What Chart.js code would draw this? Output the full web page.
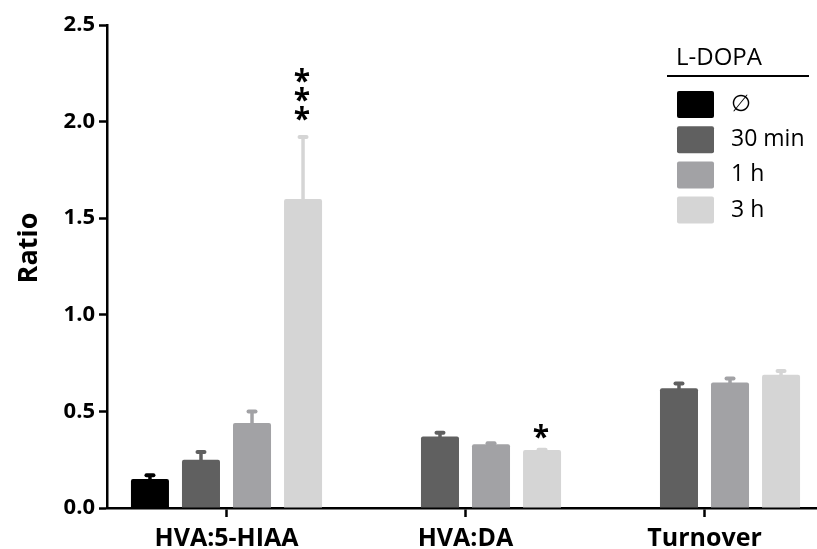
<!DOCTYPE html>
<html>
<head>
<meta charset="utf-8">
<script src="https://cdn.jsdelivr.net/npm/chart.js@4/dist/chart.umd.min.js"></script>
<style>
  html, body { margin: 0; padding: 0; background: #fff; overflow: hidden; }
  canvas { display: block; }
</style>
</head>
<body>
<canvas id="c" width="824" height="549"></canvas>
<script>
// Metabolite ratios after L-DOPA treatment (mean + SEM)
const categories = ['HVA:5-HIAA', 'HVA:DA', 'Turnover'];
const groupLabels = ['\u2205', '30 min', '1 h', '3 h'];
const legendTitle = 'L-DOPA';
const yTicks = [0, 0.5, 1.0, 1.5, 2.0, 2.5];

const meanNone  = [0.15, null, null];
const mean30min = [0.25, 0.37, 0.62];
const mean1h    = [0.44, 0.33, 0.65];
const mean3h    = [1.60, 0.30, 0.69];

const semNone  = [0.03, null, null];
const sem30min = [0.05, 0.03, 0.035];
const sem1h    = [0.07, 0.015, 0.03];
const sem3h    = [0.33, 0.012, 0.03];

// significance marks: category index, series index, symbol
const sigCategory = [0, 1];
const sigSeries   = [3, 3];
const sigText     = ['***', '*'];

const colors = ['#000000', '#606060', '#a2a2a5', '#d5d5d5'];
const FONT = '"Open Sans", "DejaVu Sans", sans-serif';

const means = [meanNone, mean30min, mean1h, mean3h];
const sems  = [semNone, sem30min, sem1h, sem3h];

const datasets = means.map((m, i) => ({
  label: groupLabels[i],
  data: m,
  sem: sems[i],
  backgroundColor: colors[i],
  borderWidth: 0,
  borderRadius: 2,
  borderSkipped: 'start',
  categoryPercentage: 0.854,
  barPercentage: 0.745
}));

// upward error bars with a rounded cap
const errorBars = {
  id: 'errorBars',
  afterDatasetsDraw(chart) {
    const { ctx } = chart;
    const y = chart.scales.y;
    chart.data.datasets.forEach((ds, i) => {
      const meta = chart.getDatasetMeta(i);
      meta.data.forEach((bar, j) => {
        const v = ds.data[j], e = ds.sem[j];
        if (v == null || e == null) return;
        const top = y.getPixelForValue(v + e);
        ctx.save();
        ctx.strokeStyle = ds.backgroundColor;
        ctx.lineWidth = 3.5;
        ctx.beginPath();
        ctx.moveTo(bar.x, bar.y + 1);
        ctx.lineTo(bar.x, top + 2);
        ctx.stroke();
        ctx.lineWidth = 4;
        ctx.lineCap = 'round';
        ctx.beginPath();
        ctx.moveTo(bar.x - 3.5, top + 2);
        ctx.lineTo(bar.x + 3.5, top + 2);
        ctx.stroke();
        ctx.restore();
      });
    });
  }
};

// stacked asterisks above the error bars
const sigMarks = {
  id: 'sigMarks',
  afterDatasetsDraw(chart) {
    const { ctx } = chart;
    const y = chart.scales.y;
    ctx.save();
    ctx.font = 'bold 30px ' + FONT;
    ctx.textAlign = 'center';
    ctx.textBaseline = 'alphabetic';
    ctx.fillStyle = '#000';
    const m = ctx.measureText('*');
    const half = (m.actualBoundingBoxAscent - m.actualBoundingBoxDescent) / 2;
    sigText.forEach((txt, k) => {
      const s = sigSeries[k], c = sigCategory[k];
      const bar = chart.getDatasetMeta(s).data[c];
      const top = y.getPixelForValue(means[s][c] + sems[s][c]);
      const gap = txt.length > 1 ? 22 : 16;
      for (let n = 0; n < txt.length; n++) {
        const cy = top - gap - n * 19;
        ctx.fillText(txt[n], bar.x - 1, cy + half);
      }
    });
    ctx.restore();
  }
};

// boxed legend with a title and rule, plus the rotated y title
const sideText = {
  id: 'sideText',
  afterDraw(chart) {
    const { ctx } = chart;
    ctx.save();
    ctx.fillStyle = '#000';
    ctx.font = '24px ' + FONT;
    ctx.textAlign = 'left';
    ctx.textBaseline = 'middle';
    ctx.fillText(legendTitle, 676, 58);
    ctx.strokeStyle = '#000';
    ctx.lineWidth = 2;
    ctx.beginPath();
    ctx.moveTo(667, 76);
    ctx.lineTo(809, 76);
    ctx.stroke();
    ctx.font = '23px ' + FONT;
    chart.data.datasets.forEach((ds, i) => {
      const by = 91 + i * 35.2;
      ctx.fillStyle = ds.backgroundColor;
      ctx.beginPath();
      ctx.roundRect(677, by, 37, 27, 2);
      ctx.fill();
      ctx.fillStyle = '#000';
      ctx.fillText(ds.label, 731, by + 13.5);
    });

    ctx.translate(29, 248);
    ctx.rotate(-Math.PI / 2);
    ctx.textAlign = 'center';
    ctx.font = 'bold 27px ' + FONT;
    ctx.fillText('Ratio', 0, 0);
    ctx.restore();
  }
};

new Chart(document.getElementById('c'), {
  type: 'bar',
  data: { labels: categories, datasets },
  plugins: [errorBars, sigMarks, sideText],
  options: {
    responsive: false,
    animation: false,
    layout: { padding: { top: 25, left: 0, right: 0, bottom: 0 } },
    plugins: { legend: { display: false }, tooltip: { enabled: false } },
    scales: {
      x: {
        offset: true,
        grid: { display: true, offset: false, drawOnChartArea: false, drawTicks: true,
                tickLength: 9, tickWidth: 2.5, tickColor: '#000' },
        border: { display: true, color: '#000', width: 2.5 },
        ticks: { color: '#000', padding: 7, maxRotation: 0, autoSkip: false,
                 font: { family: FONT, weight: 'bold', size: 25 } },
        afterFit(s) { s.height = 41; }
      },
      y: {
        min: 0,
        max: 2.5,
        afterBuildTicks(s) { s.ticks = yTicks.map(v => ({ value: v })); },
        grid: { drawOnChartArea: false, drawTicks: true, tickLength: 8, tickWidth: 2.5, tickColor: '#000' },
        border: { display: true, color: '#000', width: 2.5 },
        ticks: { color: '#000', padding: 4, callback: v => Number(v).toFixed(1),
                 font: { family: FONT, weight: 'bold', size: 22 } },
        afterFit(s) { s.width = 107; }
      }
    }
  }
});
</script>
</body>
</html>
